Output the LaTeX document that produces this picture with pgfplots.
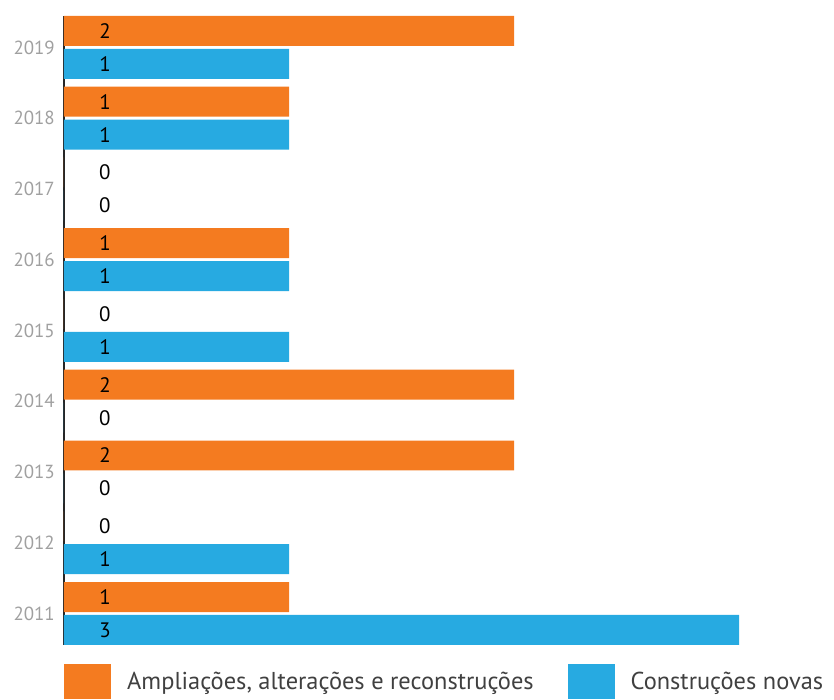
\documentclass[border=0pt]{standalone}
\usepackage{pgfplots}
\pgfplotsset{compat=1.18}
\usepackage{pgfplotstable}
\usepackage{fontspec}
\setmainfont{PT Sans}
\definecolor{ampc}{RGB}{244,123,32}
\definecolor{novc}{RGB}{39,170,225}
\definecolor{ticklab}{RGB}{160,160,160}
\definecolor{legtext}{RGB}{64,64,64}
\pgfplotsset{sqlegend/.style={legend image code/.code={\fill[##1] (0bp,-17.5bp) rectangle (47bp,17.5bp);}}}
\pgfplotstableread{
year amp nov
2011 1 3
2012 0 1
2013 2 0
2014 2 0
2015 0 1
2016 1 1
2017 0 0
2018 1 1
2019 2 1
}\data
\begin{document}
\begin{tikzpicture}
\begin{axis}[
  x=225bp, y=70.75bp,
  xmin=0, xmax=3.4, ymin=2010.555, ymax=2019.445,
  axis x line=none,
  axis y line*=left,
  y axis line style={-, line width=1.6bp, color=black!85},
  ytick={2011,2012,2013,2014,2015,2016,2017,2018,2019},
  yticklabels={2011,2012,2013,2014,2015,2016,2017,2018,2019},
  major tick length=0pt,
  yticklabel style={font=\fontsize{19}{22}\selectfont, text=ticklab, inner sep=0pt, xshift=-9bp},
  /pgf/number format/assume math mode=true,
  clip=false,
  xbar,
  legend style={at={(0,0)}, anchor=north west, yshift=-19bp, draw=none, fill=none, inner sep=0pt,
    font=\fontsize{24.5}{28}\selectfont, text=legtext, legend columns=2,
    /tikz/every odd column/.append style={column sep=16bp},
    /tikz/every even column/.append style={column sep=34bp},
    nodes={inner sep=0pt}},
  legend cell align=left,
  visualization depends on={rawx \as \rawx},
  nodes near coords,
  point meta=x,
  every node near coord/.append style={anchor=center, font=\fontsize{21}{24}\selectfont, text=black, xshift={(0.182-\rawx)*225.84pt}},
]
\addplot[xbar, sqlegend, bar width=0.424, bar shift=0.233, fill=ampc, draw=none]
  table[x=amp, y=year]{\data};
\addlegendentry{Ampliações, alterações e reconstruções}
\addplot[xbar, sqlegend, bar width=0.424, bar shift=-0.233, fill=novc, draw=none]
  table[x=nov, y=year]{\data};
\addlegendentry{Construções novas}
\end{axis}
\path ([xshift=-64bp,yshift=16bp]current axis.north west) rectangle ([xshift=5bp,yshift=-54bp]current axis.south east);
\end{tikzpicture}
\end{document}
